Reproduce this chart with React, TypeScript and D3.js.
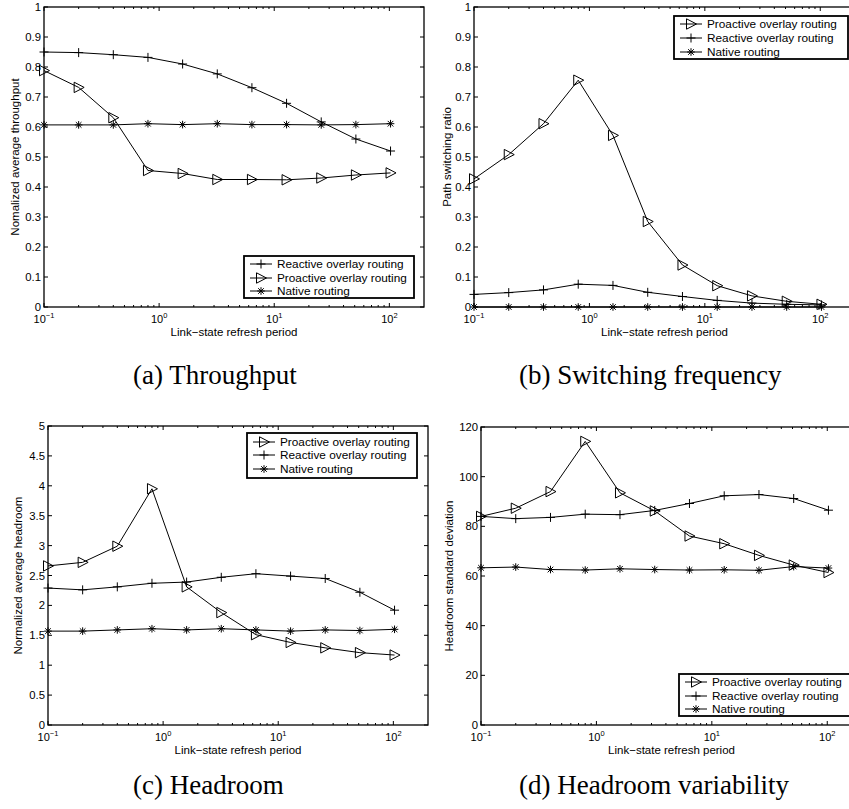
import React from "react";
import * as d3 from "d3";

const X = [0.1, 0.2, 0.4, 0.8, 1.6, 3.2, 6.4, 12.8, 25.6, 51.2, 102.4];

const aReactive = [0.85, 0.848, 0.841, 0.832, 0.81, 0.777, 0.731, 0.679, 0.617, 0.56, 0.52];
const aProactive = [0.788, 0.732, 0.631, 0.455, 0.445, 0.425, 0.425, 0.424, 0.43, 0.44, 0.447];
const aNative = [0.607, 0.607, 0.607, 0.611, 0.608, 0.611, 0.608, 0.608, 0.607, 0.608, 0.611];

const bProactive = [0.427, 0.508, 0.611, 0.756, 0.572, 0.285, 0.14, 0.071, 0.037, 0.019, 0.009];
const bReactive = [0.042, 0.048, 0.057, 0.076, 0.072, 0.049, 0.035, 0.022, 0.013, 0.009, 0.007];
const bNative = [0, 0, 0, 0, 0, 0, 0, 0, 0, 0, 0];

const cProactive = [2.66, 2.72, 2.99, 3.95, 2.31, 1.88, 1.51, 1.38, 1.29, 1.21, 1.17];
const cReactive = [2.29, 2.26, 2.31, 2.37, 2.39, 2.47, 2.53, 2.49, 2.45, 2.22, 1.92];
const cNative = [1.57, 1.57, 1.59, 1.61, 1.59, 1.61, 1.59, 1.57, 1.59, 1.58, 1.6];

const dProactive = [84.0, 87.3, 94.0, 114.2, 93.5, 86.2, 76.1, 73.0, 68.3, 64.4, 61.4];
const dReactive = [84.0, 83.1, 83.6, 84.9, 84.7, 86.4, 89.2, 92.3, 92.8, 91.2, 86.5];
const dNative = [63.3, 63.6, 62.6, 62.4, 62.9, 62.6, 62.4, 62.5, 62.3, 63.8, 63.2];

const xTickValues = [0.1, 1, 10, 100];
const xTickExps = ["\u22121", "0", "1", "2"];
const yTicksA = [0, 0.1, 0.2, 0.3, 0.4, 0.5, 0.6, 0.7, 0.8, 0.9, 1];
const yTicksC = [0, 0.5, 1, 1.5, 2, 2.5, 3, 3.5, 4, 4.5, 5];
const yTicksD = [0, 20, 40, 60, 80, 100, 120];

const NAME_PRO = "Proactive overlay routing";
const NAME_REA = "Reactive overlay routing";
const NAME_NAT = "Native routing";

const SANS = "'Liberation Sans', Arial, Helvetica, sans-serif";
const SERIF = "'Liberation Serif', 'Times New Roman', serif";

type MarkerKind = "plus" | "tri" | "star";

function Marker({ kind, x, y }: { kind: MarkerKind; x: number; y: number }) {
  if (kind === "plus") {
    return (
      <g transform={`translate(${x},${y})`} stroke="#000" strokeWidth={1} fill="none">
        <line x1={-4.5} x2={4.5} y1={0} y2={0} />
        <line x1={0} x2={0} y1={-4.5} y2={4.5} />
      </g>
    );
  }
  if (kind === "tri") {
    return (
      <path
        transform={`translate(${x},${y})`}
        d="M-4.5,-5.2L-4.5,5.2L5.5,0Z"
        stroke="#000"
        strokeWidth={1}
        fill="none"
      />
    );
  }
  return (
    <g transform={`translate(${x},${y})`} stroke="#000" strokeWidth={1} fill="none">
      <line x1={-3.8} x2={3.8} y1={0} y2={0} />
      <line x1={0} x2={0} y1={-3.8} y2={3.8} />
      <line x1={-2.8} x2={2.8} y1={-2.8} y2={2.8} />
      <line x1={-2.8} x2={2.8} y1={2.8} y2={-2.8} />
    </g>
  );
}

function SText(props: {
  x: number;
  y: number;
  anchor?: string;
  size: number;
  rotate?: number;
  family?: string;
  children: React.ReactNode;
}) {
  const { x, y, anchor = "start", size, rotate = 0, family = SANS, children } = props;
  const tf = rotate ? `translate(${x},${y}) rotate(${rotate})` : `translate(${x},${y})`;
  return (
    <text transform={tf} textAnchor={anchor} fontSize={size} fontFamily={family} fill="#000">
      {children}
    </text>
  );
}

type Series = { name: string; kind: MarkerKind; values: number[] };

type PanelProps = {
  left: number;
  right: number;
  top: number;
  bottom: number;
  yMax: number;
  yTicks: number[];
  ylabel: string;
  ylabelX: number;
  series: Series[];
  legend: { x: number; y: number; w: number; h: number; rows: number[] };
  legendOrder: Series[];
  caption: string;
  captionX: number;
  captionY: number;
};

function Panel(p: PanelProps) {
  const xs = d3.scaleLog().domain([0.1, 200]).range([p.left, p.right]);
  const ys = d3.scaleLinear().domain([0, p.yMax]).range([p.bottom, p.top]);
  const line = d3
    .line<number>()
    .x((_, i) => xs(X[i]))
    .y((v) => ys(v));

  const minor: number[] = [];
  for (const dec of [0.1, 1, 10, 100]) {
    for (let k = 2; k <= 9; k++) {
      const v = dec * k;
      if (v < 200) minor.push(v);
    }
  }
  const fmt = (v: number) => String(v);
  const lg = p.legend;
  const cx = (p.left + p.right) / 2;
  const cy = (p.top + p.bottom) / 2;

  return (
    <g>
      {p.series.map((s) => (
        <g key={s.name}>
          <path d={line(s.values) || ""} fill="none" stroke="#000" strokeWidth={1} />
          {s.values.map((v, i) => (
            <Marker key={i} kind={s.kind} x={xs(X[i])} y={ys(v)} />
          ))}
        </g>
      ))}
      <rect
        x={p.left}
        y={p.top}
        width={p.right - p.left}
        height={p.bottom - p.top}
        fill="none"
        stroke="#000"
        strokeWidth={1.3}
      />
      {xTickValues.map((v) => (
        <g key={"xt" + v}>
          <line x1={xs(v)} x2={xs(v)} y1={p.bottom} y2={p.bottom - 4} stroke="#000" />
          <line x1={xs(v)} x2={xs(v)} y1={p.top} y2={p.top + 4} stroke="#000" />
        </g>
      ))}
      {minor.map((v) => (
        <g key={"xm" + v}>
          <line x1={xs(v)} x2={xs(v)} y1={p.bottom} y2={p.bottom - 2} stroke="#000" />
          <line x1={xs(v)} x2={xs(v)} y1={p.top} y2={p.top + 2} stroke="#000" />
        </g>
      ))}
      {xTickValues.map((v, i) => (
        <SText key={"xl" + v} x={xs(v)} y={p.bottom + 16} anchor="middle" size={11}>
          10
          <tspan dy={-5} fontSize={7.5}>
            {xTickExps[i]}
          </tspan>
        </SText>
      ))}
      {p.yTicks.map((v) => (
        <g key={"yt" + v}>
          <line x1={p.left} x2={p.left + 4} y1={ys(v)} y2={ys(v)} stroke="#000" />
          <line x1={p.right} x2={p.right - 4} y1={ys(v)} y2={ys(v)} stroke="#000" />
          <SText x={p.left - 3} y={ys(v) + 4} anchor="end" size={11.3}>
            {fmt(v)}
          </SText>
        </g>
      ))}
      <SText x={cx} y={p.bottom + 29} anchor="middle" size={11.5}>
        Link{"\u2212"}state refresh period
      </SText>
      <SText x={p.ylabelX} y={cy} anchor="middle" size={11.5} rotate={-90}>
        {p.ylabel}
      </SText>
      <rect x={lg.x} y={lg.y} width={lg.w} height={lg.h} fill="#fff" stroke="#000" strokeWidth={1.8} />
      {p.legendOrder.map((s, i) => (
        <g key={"lg" + s.name}>
          <line x1={lg.x + 6} x2={lg.x + 28} y1={lg.rows[i]} y2={lg.rows[i]} stroke="#000" />
          <Marker kind={s.kind} x={lg.x + 17} y={lg.rows[i]} />
          <SText x={lg.x + 33} y={lg.rows[i] + 4} size={11.8}>
            {s.name}
          </SText>
        </g>
      ))}
      <SText x={p.captionX} y={p.captionY} size={27} family={SERIF}>
        {p.caption}
      </SText>
    </g>
  );
}

export default function App() {
  const sa: Series[] = [
    { name: NAME_REA, kind: "plus", values: aReactive },
    { name: NAME_PRO, kind: "tri", values: aProactive },
    { name: NAME_NAT, kind: "star", values: aNative },
  ];
  const sb: Series[] = [
    { name: NAME_PRO, kind: "tri", values: bProactive },
    { name: NAME_REA, kind: "plus", values: bReactive },
    { name: NAME_NAT, kind: "star", values: bNative },
  ];
  const sc: Series[] = [
    { name: NAME_PRO, kind: "tri", values: cProactive },
    { name: NAME_REA, kind: "plus", values: cReactive },
    { name: NAME_NAT, kind: "star", values: cNative },
  ];
  const sd: Series[] = [
    { name: NAME_PRO, kind: "tri", values: dProactive },
    { name: NAME_REA, kind: "plus", values: dReactive },
    { name: NAME_NAT, kind: "star", values: dNative },
  ];
  return (
    <svg
      width={849}
      height={809}
      style={{ position: "absolute", left: 0, top: 0, background: "#fff" }}
    >
      <rect x={0} y={0} width={849} height={809} fill="#fff" />
      <Panel
        left={44}
        right={424}
        top={7}
        bottom={307}
        yMax={1}
        yTicks={yTicksA}
        ylabel="Nomalized average throughput"
        ylabelX={19}
        series={sa}
        legend={{ x: 244, y: 256, w: 170, h: 42, rows: [264, 278, 291] }}
        legendOrder={sa}
        caption="(a) Throughput"
        captionX={133}
        captionY={384}
      />
      <Panel
        left={474}
        right={855}
        top={7}
        bottom={307}
        yMax={1}
        yTicks={yTicksA}
        ylabel="Path switching ratio"
        ylabelX={451}
        series={sb}
        legend={{ x: 674, y: 16, w: 174, h: 43, rows: [24, 38, 52] }}
        legendOrder={sb}
        caption="(b) Switching frequency"
        captionX={519}
        captionY={384}
      />
      <Panel
        left={48}
        right={428}
        top={426}
        bottom={725}
        yMax={5}
        yTicks={yTicksC}
        ylabel="Normalized average headroom"
        ylabelX={22}
        series={sc}
        legend={{ x: 247, y: 433, w: 170, h: 45, rows: [442, 455, 469] }}
        legendOrder={sc}
        caption="(c) Headroom"
        captionX={133}
        captionY={794}
      />
      <Panel
        left={481}
        right={862}
        top={427}
        bottom={725}
        yMax={120}
        yTicks={yTicksD}
        ylabel="Headroom standard deviation"
        ylabelX={453}
        series={sd}
        legend={{ x: 679, y: 674, w: 174, h: 42, rows: [682, 696, 709] }}
        legendOrder={sd}
        caption="(d) Headroom variability"
        captionX={519}
        captionY={794}
      />
    </svg>
  );
}
